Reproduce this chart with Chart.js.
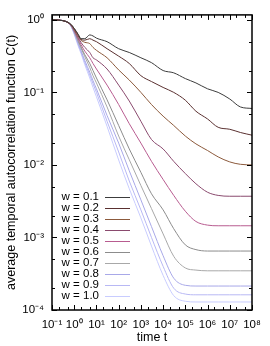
<!DOCTYPE html>
<html>
<head>
<meta charset="utf-8">
<script src="https://cdn.jsdelivr.net/npm/chart.js@4.4.1/dist/chart.umd.min.js"></script>
<style>
  html, body { margin: 0; padding: 0; background: #fff; }
  #chart { display: block; }
</style>
</head>
<body>
<canvas id="chart" width="270" height="346"></canvas>
<script>
// time points (shared by all curves)
const times = [0.1, 0.2, 0.4, 0.7, 1, 1.5, 2, 3, 5, 7, 10, 30, 100, 300, 1e3, 3e3, 1e4, 3e4, 1e5, 3e5, 1e6, 3e6, 1e7, 3e7, 1e8];

const wLabels = ['w = 0.1', 'w = 0.2', 'w = 0.3', 'w = 0.4', 'w = 0.5', 'w = 0.6', 'w = 0.7', 'w = 0.8', 'w = 0.9', 'w = 1.0'];
const wColors = ['#3c3c3c', '#5a3030', '#8c5a3c', '#8a4a6e', '#b85c90', '#8c8c8c', '#a8a8a8', '#a8a8e8', '#b8b8f4', '#c8ccff'];

// C(t)
const c01 = [1, 0.99, 0.955, 0.87, 0.76, 0.63, 0.55, 0.55, 0.62, 0.60, 0.56, 0.50, 0.40, 0.355, 0.30, 0.257, 0.20, 0.186, 0.155, 0.135, 0.112, 0.100, 0.081, 0.063, 0.060];
const c02 = [1, 0.99, 0.955, 0.87, 0.76, 0.63, 0.54, 0.525, 0.55, 0.525, 0.50, 0.40, 0.316, 0.25, 0.17, 0.141, 0.117, 0.10, 0.078, 0.055, 0.043, 0.033, 0.031, 0.028, 0.0257];
const c03 = [1, 0.99, 0.955, 0.86, 0.74, 0.60, 0.525, 0.49, 0.47, 0.417, 0.38, 0.30, 0.204, 0.148, 0.10, 0.068, 0.047, 0.035, 0.025, 0.0195, 0.0158, 0.0129, 0.011, 0.0102, 0.0100];
const c04 = [1, 0.99, 0.955, 0.85, 0.72, 0.575, 0.49, 0.417, 0.355, 0.30, 0.28, 0.21, 0.126, 0.076, 0.040, 0.0224, 0.0166, 0.0112, 0.0076, 0.0055, 0.0042, 0.0038, 0.0037, 0.0037, 0.0037];
const c05 = [1, 0.99, 0.955, 0.85, 0.71, 0.55, 0.457, 0.37, 0.30, 0.25, 0.21, 0.126, 0.068, 0.037, 0.020, 0.0112, 0.0063, 0.0038, 0.0023, 0.00166, 0.00148, 0.00145, 0.00145, 0.00145, 0.00145];
const c06 = [1, 0.99, 0.955, 0.85, 0.69, 0.525, 0.427, 0.33, 0.25, 0.20, 0.158, 0.079, 0.035, 0.0166, 0.0079, 0.0040, 0.0024, 0.00132, 0.00079, 0.00068, 0.00065, 0.00065, 0.00065, 0.00065, 0.00065];
const c07 = [1, 0.99, 0.955, 0.84, 0.68, 0.50, 0.41, 0.31, 0.22, 0.17, 0.135, 0.063, 0.025, 0.0118, 0.0052, 0.0025, 0.00112, 0.00055, 0.00038, 0.000355, 0.000347, 0.000347, 0.000347, 0.000347, 0.000347];
const c08 = [1, 0.99, 0.955, 0.83, 0.66, 0.48, 0.38, 0.275, 0.19, 0.145, 0.112, 0.048, 0.020, 0.0083, 0.0033, 0.00141, 0.00056, 0.000275, 0.000219, 0.000214, 0.000214, 0.000214, 0.000214, 0.000214, 0.000214];
const c09 = [1, 0.99, 0.955, 0.83, 0.645, 0.457, 0.363, 0.257, 0.174, 0.132, 0.10, 0.040, 0.0151, 0.0060, 0.0024, 0.0010, 0.0004, 0.0002, 0.000166, 0.000162, 0.000162, 0.000162, 0.000162, 0.000162, 0.000162];
const c10 = [1, 0.99, 0.955, 0.82, 0.63, 0.437, 0.347, 0.24, 0.158, 0.117, 0.087, 0.034, 0.0117, 0.0047, 0.00186, 0.00076, 0.0003, 0.000158, 0.000132, 0.000129, 0.000129, 0.000129, 0.000129, 0.000129, 0.000129];

const series = [c01, c02, c03, c04, c05, c06, c07, c08, c09, c10];

const xTicks = [1e-1, 1, 1e1, 1e2, 1e3, 1e4, 1e5, 1e6, 1e7, 1e8];
const yTicks = [1e-4, 1e-3, 1e-2, 1e-1, 1];

const FONT = 'Liberation Sans, Arial, Helvetica, sans-serif';
const SUP = {'-': '\u207B', '0': '\u2070', '1': '\u00B9', '2': '\u00B2', '3': '\u00B3', '4': '\u2074',
             '5': '\u2075', '6': '\u2076', '7': '\u2077', '8': '\u2078', '9': '\u2079'};

function powLabel(v) {
    const e = String(Math.round(Math.log10(v)));
    return '10' + e.split('').map(ch => SUP[ch]).join('');
}

// frame with inward ticks on all four sides (gnuplot look)
const framePlugin = {
    id: 'frame',
    afterDatasetsDraw(chart) {
        const {ctx, chartArea: a, scales: {x, y}} = chart;
        ctx.save();
        ctx.strokeStyle = '#000';
        ctx.lineWidth = 1;
        ctx.beginPath();
        for (let e = -1; e <= 8; e++) {
            [1, 2, 5].forEach(m => {
                const v = m * Math.pow(10, e);
                if (v < x.min || v > x.max) return;
                const px = Math.round(x.getPixelForValue(v)) + 0.5;
                const len = m === 1 ? 5 : 3;
                ctx.moveTo(px, a.bottom); ctx.lineTo(px, a.bottom - len);
                ctx.moveTo(px, a.top); ctx.lineTo(px, a.top + len);
            });
        }
        for (let e = -4; e <= 0; e++) {
            [1, 2, 5].forEach(m => {
                const v = m * Math.pow(10, e);
                if (v < y.min || v > y.max) return;
                const py = Math.round(y.getPixelForValue(v)) + 0.5;
                const len = m === 1 ? 5 : 3;
                ctx.moveTo(a.left, py); ctx.lineTo(a.left + len, py);
                ctx.moveTo(a.right, py); ctx.lineTo(a.right - len, py);
            });
        }
        ctx.stroke();
        ctx.lineWidth = 1.5;
        ctx.strokeRect(a.left, a.top, a.right - a.left, a.bottom - a.top);
        ctx.restore();
    }
};

// key inside the plot, text on the left and line sample on the right
const keyPlugin = {
    id: 'key',
    afterDraw(chart) {
        const {ctx} = chart;
        ctx.save();
        ctx.font = '11.5px ' + FONT;
        ctx.textAlign = 'right';
        ctx.textBaseline = 'middle';
        chart.data.datasets.forEach((ds, i) => {
            const yy = 196.5 + i * 11;
            ctx.fillStyle = '#000';
            ctx.fillText(ds.label, 99, yy + 0.5);
            ctx.strokeStyle = ds.borderColor;
            ctx.lineWidth = 1;
            ctx.beginPath();
            ctx.moveTo(105, Math.round(yy) + 0.5);
            ctx.lineTo(130, Math.round(yy) + 0.5);
            ctx.stroke();
        });
        ctx.restore();
    }
};

const datasets = series.map((vals, i) => ({
    label: wLabels[i],
    data: times.map((t, j) => ({x: t, y: vals[j]})),
    borderColor: wColors[i],
    borderWidth: 1,
    pointRadius: 0,
    cubicInterpolationMode: 'monotone',
    fill: false
}));

new Chart(document.getElementById('chart'), {
    type: 'line',
    data: {datasets: datasets},
    options: {
        responsive: false,
        animation: false,
        devicePixelRatio: 1,
        layout: {padding: {top: 14, right: 18, left: 0, bottom: 0}},
        plugins: {legend: {display: false}, tooltip: {enabled: false}},
        scales: {
            x: {
                type: 'logarithmic',
                min: 1e-1,
                max: 1e8,
                grid: {display: false, drawTicks: false},
                border: {display: false},
                afterBuildTicks: s => { s.ticks = xTicks.map(v => ({value: v})); },
                afterFit: s => { s.height = 36; },
                ticks: {
                    autoSkip: false, maxRotation: 0, padding: 8, color: '#000',
                    font: {family: FONT, size: 11.5},
                    callback: v => powLabel(v)
                },
                title: {display: true, text: 'time t', color: '#000',
                        font: {family: FONT, size: 12.5}, padding: {top: 0, bottom: 1}}
            },
            y: {
                type: 'logarithmic',
                min: 1e-4,
                max: 1.17,
                grid: {display: false, drawTicks: false},
                border: {display: false},
                afterBuildTicks: s => { s.ticks = yTicks.map(v => ({value: v})); },
                afterFit: s => { s.width = 52; },
                ticks: {
                    autoSkip: false, padding: 8, color: '#000',
                    font: {family: FONT, size: 11.5},
                    callback: v => powLabel(v)
                },
                title: {display: true, text: 'average temporal autocorrelation function C(t)', color: '#000',
                        font: {family: FONT, size: 12.5}, padding: {top: 4, bottom: 0}}
            }
        }
    },
    plugins: [framePlugin, keyPlugin]
});
</script>
</body>
</html>
